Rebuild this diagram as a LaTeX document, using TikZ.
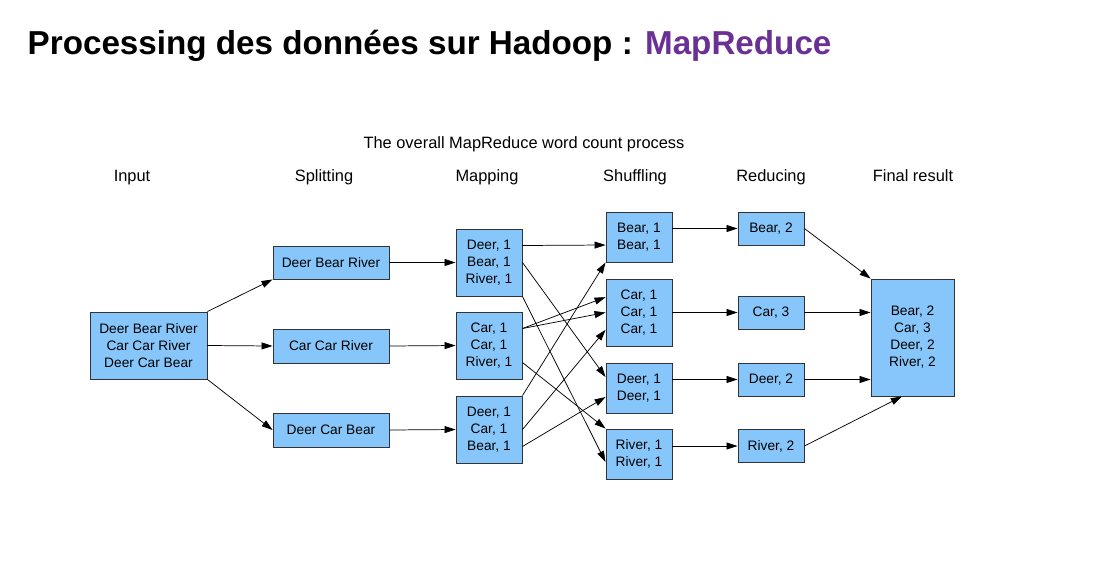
\documentclass[tikz,border=0pt]{standalone}
\usepackage{fontspec}
\setmainfont{Liberation Sans}
\usetikzlibrary{arrows.meta}
\definecolor{boxblue}{RGB}{135,198,250}
\definecolor{hadooppurple}{RGB}{107,48,148}

\begin{document}
\begin{tikzpicture}[x=0.75pt, y=-0.75pt,
	box/.style={draw=black!80, line width=0.7pt, fill=boxblue, align=center, inner sep=0pt, font=\fontsize{10.3}{12.75}\selectfont},
	wh/.style 2 args={minimum width=#1*0.75pt, minimum height=#2*0.75pt},
	head/.style={anchor=base, font=\fontsize{12.3}{14}\selectfont},
	arr/.style={-{Triangle[length=8.25pt,width=5.25pt]}, line width=0.55pt}]
	\def\dy{12.75pt};

	\useasboundingbox (0,0) rectangle (1099,568);

	\node[anchor=base west, font=\fontsize{24.9}{30}\selectfont\bfseries] (title) at (23,54)
		{Processing des données sur Hadoop : \textcolor{hadooppurple}{MapReduce}};

	\node[head] (caption) at (524,148) {The overall MapReduce word count process};
	\node[head] (hin) at (132,181) {Input};
	\node[head] (hsplit) at (324,181) {Splitting};
	\node[head] (hmap) at (487,181) {Mapping};
	\node[head] (hshuf) at (635,181) {Shuffling};
	\node[head] (hred) at (771,181) {Reducing};
	\node[head] (hfin) at (913,181) {Final result};

	% input and splitting
	\node[box, wh={117}{67}] (in) at (148.5,345.5) {Deer Bear River\\Car Car River\\Deer Car Bear};
	\node[box, wh={116}{33}] (sp1) at (331,262.5) {Deer Bear River};
	\node[box, wh={116}{34}] (sp2) at (331,346) {Car Car River};
	\node[box, wh={116}{34}] (sp3) at (331,430) {Deer Car Bear};

	% mapping
	\node[box, wh={66}{67}] (m1) at (489,262.5) {Deer, 1\\Bear, 1\\River, 1};
	\node[box, wh={66}{67}] (m2) at (489,345.5) {Car, 1\\Car, 1\\River, 1};
	\node[box, wh={66}{67}] (m3) at (489,429.5) {Deer, 1\\Car, 1\\Bear, 1};

	% shuffling
	\node[box, wh={66}{50}] (sh1) at (639,237) {Bear, 1\\Bear, 1};
	\node[box, wh={66}{67}] (sh2) at (639,312.5) {Car, 1\\Car, 1\\Car, 1};
	\node[box, wh={66}{50}] (sh3) at (639,388) {Deer, 1\\Deer, 1};
	\node[box, wh={66}{50}] (sh4) at (639,454) {River, 1\\River, 1};

	% reducing
	\node[box, wh={66}{33}] (r1) at (771,228.5) {Bear, 2};
	\node[box, wh={66}{33}] (r2) at (771,312.5) {Car, 3};
	\node[box, wh={66}{33}] (r3) at (771,379.5) {Deer, 2};
	\node[box, wh={66}{33}] (r4) at (771,446) {River, 2};

	\node[box, wh={83}{117}] (fin) at (912.5,337.5) {Bear, 2\\Car, 3\\Deer, 2\\River, 2};

	\draw[arr] (in.north east) -- (sp1.south west);
	\draw[arr] (in.east) -- (sp2.west);
	\draw[arr] (in.south east) -- (sp3.west);

	\draw[arr] (sp1.east) -- (m1.west);
	\draw[arr] (sp2.east) -- (m2.west);
	\draw[arr] (sp3.east) -- (m3.west);

	% the crossing lines
	\draw[arr] ([yshift=\dy]m1.east) -- ([yshift=-6pt]sh1.west);
	\draw[arr] (m1.east) -- ([yshift=8.25pt]sh3.west);
	\draw[arr] (m1.south east) -- ([yshift=-6pt]sh4.west);
	\draw[arr] ([yshift=\dy]m2.east) -- ([yshift=11.5pt]sh2.west);
	\draw[arr] ([yshift=\dy]m2.east) -- (sh2.west);
	\draw[arr] ([yshift=-\dy]m2.east) -- (sh4.north west);
	\draw[arr] (m3.north east) -- (sh1.south west);
	\draw[arr] (m3.east) -- ([yshift=-13pt]sh2.west);
	\draw[arr] ([yshift=-\dy]m3.east) -- ([yshift=-6.75pt]sh3.west);

	\draw[arr] (r1.west -| sh1.east) -- (r1.west);
	\draw[arr] (r2.west -| sh2.east) -- (r2.west);
	\draw[arr] (r3.west -| sh3.east) -- (r3.west);
	\draw[arr] (r4.west -| sh4.east) -- (r4.west);

	\draw[arr] (r1.east) -- (fin.north west);
	\draw[arr] (r2.east) -- (r2.east -| fin.west);
	\draw[arr] (r3.east) -- (r3.east -| fin.west);
	\draw[arr] (r4.east) -- ([xshift=-8pt]fin.south);
\end{tikzpicture}
\end{document}
